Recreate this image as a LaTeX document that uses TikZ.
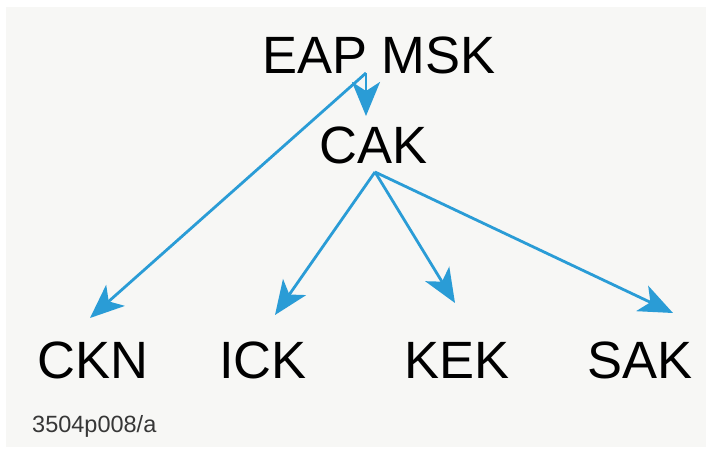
\documentclass[tikz,border=0pt]{standalone}
\usepackage{fontspec}
\setmainfont{Liberation Sans}
\usetikzlibrary{arrows.meta}
\definecolor{arrowblue}{RGB}{42,156,214}
\definecolor{panel}{RGB}{247,247,245}
\definecolor{labelgray}{RGB}{55,55,55}
\tikzset{
  big/.style={inner sep=0pt, anchor=base, font=\fontsize{52.5}{60}\selectfont},
  small/.style={inner sep=0pt, anchor=base west, text=labelgray, font=\fontsize{23.5}{27}\selectfont},
  arr/.style={draw=arrowblue, line width=2.8pt, -{Stealth[length=34pt,width=28pt,inset=9pt]}}
}
\begin{document}
\begin{tikzpicture}[x=1pt,y=-1pt]
\useasboundingbox (0,0) rectangle (712,453);
\fill[white] (0,0) rectangle (712,453);
\fill[panel] (6,7) rectangle (706,447);
\node[big] (eap) at (379,73) {EAP MSK};
\node[big] (cak) at (373.5,163) {CAK};
\node[big] (ckn) at (93,378) {CKN};
\node[big] (ick) at (263,378) {ICK};
\node[big] (kek) at (457,378) {KEK};
\node[big] (sak) at (640,378) {SAK};
\node[small] (ref) at (32,432) {3504p008/a};
\coordinate (j1) at (366,73);
\coordinate (j2) at (375,172);
\coordinate (t0) at (366,116);
\coordinate (t1) at (90,318);
\coordinate (t2) at (275,315);
\coordinate (t3) at (455,303);
\coordinate (t4) at (673,313);
\draw[arr] (j1) -- (t0);
\draw[arr] (j1) -- (t1);
\draw[arr] (j2) -- (t2);
\draw[arr] (j2) -- (t3);
\draw[arr] (j2) -- (t4);
\end{tikzpicture}
\end{document}
